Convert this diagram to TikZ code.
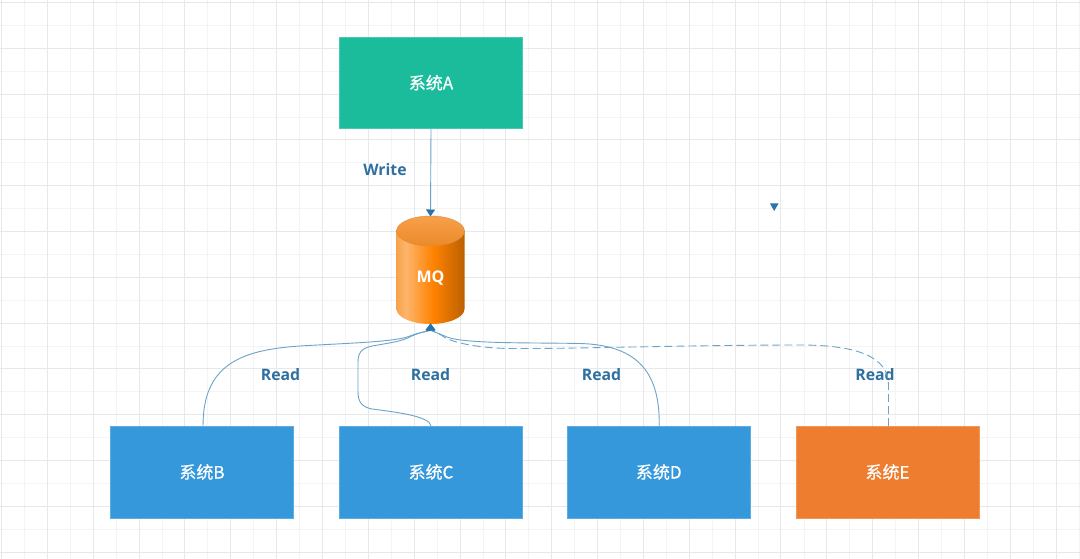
\documentclass[tikz,border=0pt]{standalone}
\usepackage{fontspec}
\setmainfont{Open Sans}
\newfontfamily\cjk[FakeBold=0.6]{Noto Sans CJK SC}
\usetikzlibrary{arrows.meta}
\definecolor{gridmaj}{HTML}{E8E8E8}
\definecolor{gridmin}{HTML}{F4F4F4}
\definecolor{lnk}{HTML}{6BA3C9}
\definecolor{lbl}{HTML}{2F70A0}
\definecolor{tipc}{HTML}{2A74AC}
\definecolor{teal}{HTML}{1ABC9C}
\definecolor{blu}{HTML}{3498DB}
\definecolor{org}{HTML}{EE7D30}
\definecolor{cyA}{HTML}{DD7410}
\definecolor{cyB}{HTML}{F08A20}
\definecolor{cyC}{HTML}{FDB56B}
\definecolor{cyD}{HTML}{FF8200}
\definecolor{cyE}{HTML}{B85F00}
\definecolor{cyF}{HTML}{D87000}
\definecolor{capT}{HTML}{F8A04A}
\definecolor{capB}{HTML}{EB8A2A}
\definecolor{capL}{HTML}{D98A45}
\pgfdeclarehorizontalshading{cylside}{100bp}{
 color(0bp)=(cyA);
 color(15bp)=(cyB);
 color(32bp)=(cyC);
 color(52bp)=(cyD);
 color(76bp)=(cyE);
 color(88bp)=(cyF);
 color(100bp)=(cyF)}
\tikzset{
 x=1pt,y=-1pt,
 sysbox/.style={rectangle,minimum width=183pt,minimum height=91.5pt,inner sep=0pt,line width=0.5pt,text=white,font=\cjk\fontsize{17}{19}\selectfont},
 tealbox/.style={sysbox,fill=teal,draw=teal!80!white},
 bluebox/.style={sysbox,fill=blu,draw=blu!80!white},
 orgbox/.style={sysbox,fill=org,draw=org!80!white},
 lab/.style={text=lbl,font=\fontsize{15.8}{18}\selectfont\bfseries,inner sep=0pt},
 lnkline/.style={draw=lnk,line width=0.9pt},
 tip/.style={-{Triangle[length=7pt,width=9pt,fill=tipc,color=tipc]}},
}
\begin{document}
\begin{tikzpicture}
\useasboundingbox (0,0) rectangle (1080,559);
\fill[white] (0,0) rectangle (1080,559);
% grid
\foreach \i in {0,...,23}{
 \pgfmathsetmacro{\gx}{24.5+45.85*\i}
 \draw[gridmin,line width=0.9pt] (\gx,0) -- (\gx,559);
}
\foreach \i in {0,...,11}{
 \pgfmathsetmacro{\gy}{25.5+45.8*\i}
 \draw[gridmin,line width=0.9pt] (0,\gy) -- (1080,\gy);
}
\foreach \i in {0,...,23}{
 \pgfmathsetmacro{\gx}{1.5+45.85*\i}
 \draw[gridmaj,line width=1pt] (\gx,0) -- (\gx,559);
}
\foreach \i in {0,...,12}{
 \pgfmathsetmacro{\gy}{2.5+45.8*\i}
 \draw[gridmaj,line width=1pt] (0,\gy) -- (1080,\gy);
}
% boxes
\node[tealbox] (a) at (431,82.75) {系统A};
\node[bluebox] (b) at (202,472) {系统B};
\node[bluebox] (c) at (431,472) {系统C};
\node[bluebox] (d) at (658.75,472) {系统D};
\node[orgbox] (e) at (887.5,472) {系统E};
% cylinder
\path[shade,shading=cylside] (396.5,231) -- (396.5,309) arc[start angle=180,end angle=0,x radius=34,y radius=15] -- (464.5,231) -- cycle;
\path[top color=capT,bottom color=capB,draw=capL,line width=0.4pt] (430.5,231) ellipse[x radius=34,y radius=15];
\node[minimum width=68pt,minimum height=108pt,inner sep=0pt,text=white,font=\fontsize{16}{18}\selectfont\bfseries] (mq) at (430.5,278) {MQ};
\coordinate (mqtop) at (430.5,216.5);
\coordinate (mqbot) at (430.5,323.5);
% stray arrowhead
\fill[tipc] (770,203.5) -- (778.5,203.5) -- (774.2,211) -- cycle;
\node[lab] (w) at (385,169.5) {Write};
\node[lab] (rb) at (280.5,375) {Read};
\node[lab] (rc) at (430.5,375) {Read};
\node[lab] (rd) at (601.5,375) {Read};
\node[lab] (re) at (875,375) {Read};
% connectors
\draw[lnkline,tip] (a.south) -- (mqtop);
\draw[lnkline,tip] (b.north) ++(1,0) coordinate (bt) (bt) .. controls (203,365) and (240,350) .. (300,346) .. controls (350,343) and (395,342) .. (410,336) .. controls (420,332) and (430,331) .. (mqbot);
\draw[lnkline,tip] (c.north) .. controls (430,416) and (395,412) .. (372,409) .. controls (362,407) and (358,402) .. (358,392) -- (358,362) .. controls (358,350) and (364,347) .. (378,345) .. controls (395,342) and (402,341) .. (412,336) .. controls (420,332) and (430,331) .. (mqbot);
\draw[lnkline,tip] (d.north) ++(0.5,0) coordinate (dt) (dt) .. controls (660,375) and (640,345) .. (580,343.5) .. controls (530,342.5) and (465,344) .. (447,337) .. controls (438,333) and (431,331) .. (mqbot);
\draw[lnkline,dash pattern=on 8pt off 4pt,tip] (e.north) ++(1,0) coordinate (et) (et) -- (888.5,385) .. controls (888.5,358) and (860,345) .. (800,345) .. controls (690,345) and (570,349) .. (510,348.5) .. controls (475,348) and (452,342) .. (444,337) .. controls (437,332) and (431,331) .. (mqbot);
\end{tikzpicture}
\end{document}
